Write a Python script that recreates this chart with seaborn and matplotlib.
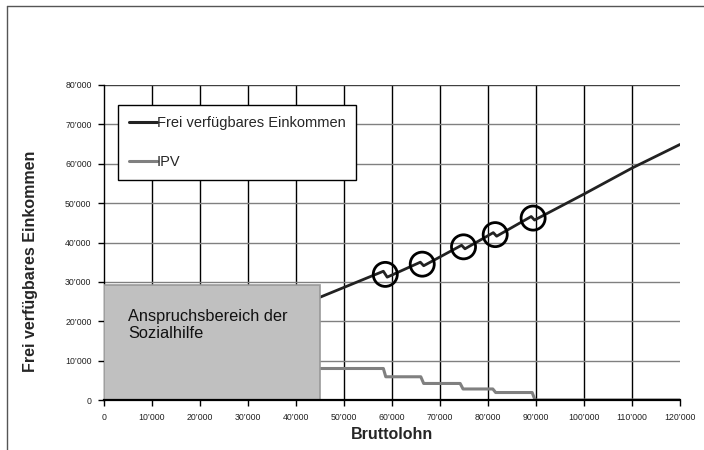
import seaborn as sns
import matplotlib.pyplot as plt
import pandas as pd
from matplotlib.lines import Line2D
from matplotlib.patches import Rectangle

# Frei verfügbares Einkommen
income_x = [45000, 58200, 59000, 65900, 66600, 74500, 75200, 81100, 81800,
            89000, 89700, 100000, 110000, 120000]
income_y = [26100, 32700, 31200, 35000, 34100, 39300, 38400, 42500, 41600,
            46600, 45700, 52300, 58900, 64900]

# IPV steps
ipv_x = [44000, 58200, 58700, 66000, 66600, 74200, 74800, 81000, 81600,
         89200, 89800, 120000]
ipv_y = [8000, 8000, 5900, 5900, 4200, 4200, 2800, 2800, 1900,
         1900, 0, 0]

# circled jumps
circle_x = [58600, 66300, 74900, 81500, 89400]
circle_y = [31900, 34500, 38900, 42000, 46200]

x_ticks = [0, 10000, 20000, 30000, 40000, 50000, 60000, 70000, 80000,
           90000, 100000, 110000, 120000]
x_labels = ["0", "10’000", "20’000", "30’000", "40’000", "50’000", "60’000",
            "70’000", "80’000", "90’000", "100’000", "110’000", "120’000"]
y_ticks = [0, 10000, 20000, 30000, 40000, 50000, 60000, 70000, 80000]
y_labels = ["0", "10’000", "20’000", "30’000", "40’000", "50’000", "60’000",
            "70’000", "80’000"]

sns.set_style("white")
plt.rcParams['font.family'] = ['Liberation Sans', 'DejaVu Sans']

fig = plt.figure(figsize=(7.04, 4.5), dpi=100)
ax = fig.add_axes([104 / 704, 50 / 450, 576 / 704, 315 / 450])

income = pd.DataFrame({"x": income_x, "y": income_y})
ipv = pd.DataFrame({"x": ipv_x, "y": ipv_y})
circles = pd.DataFrame({"x": circle_x, "y": circle_y})

# grid
for v in x_ticks[1:-1]:
    ax.axvline(v, color="black", lw=1.0, zorder=1)
for v in y_ticks[1:]:
    ax.axhline(v, color="#808080" if v < 80000 else "#404040", lw=1.0, zorder=1)

sns.lineplot(data=ipv, x="x", y="y", ax=ax, color="#808080", lw=2.2,
             estimator=None, sort=False, zorder=3)
sns.lineplot(data=income, x="x", y="y", ax=ax, color="#222222", lw=2.0,
             estimator=None, sort=False, zorder=4)
sns.scatterplot(data=circles, x="x", y="y", ax=ax, s=300, marker="o",
                facecolor="none", edgecolor="black", linewidth=2.0, zorder=5)

# Sozialhilfe box
ax.add_patch(Rectangle((0, 0), 45000, 29300, facecolor="#c0c0c0",
                       edgecolor="#999999", lw=1.2, zorder=6))
ax.text(5000, 23000, "Anspruchsbereich der\nSozialhilfe", fontsize=11.8,
        va="top", ha="left", linespacing=1.12, color="#111111", zorder=7)

ax.set_xlim(0, 120000)
ax.set_ylim(0, 80000)
ax.set_xticks(x_ticks)
ax.set_xticklabels(x_labels)
ax.set_yticks(y_ticks)
ax.set_yticklabels(y_labels)
ax.tick_params(axis="both", direction="out", length=4, width=1, color="black",
               labelsize=6.3, labelcolor="#222222", pad=5,
               bottom=True, left=True)

for side in ["top", "right"]:
    ax.spines[side].set_visible(False)
ax.spines["left"].set_color("black")
ax.spines["left"].set_linewidth(1.0)
ax.spines["bottom"].set_color("black")
ax.spines["bottom"].set_linewidth(1.6)
ax.spines["bottom"].set_zorder(8)

ax.set_xlabel("Bruttolohn", fontsize=11.5, fontweight="bold")
ax.set_ylabel("Frei verfügbares Einkommen", fontsize=11.5, fontweight="bold")
ax.xaxis.set_label_coords(0.5, -0.085)
ax.yaxis.set_label_coords(-0.115, 0.44)

handles = [Line2D([0], [0], color="#222222", lw=2.2),
           Line2D([0], [0], color="#808080", lw=2.2)]
leg = ax.legend(handles, ["Frei verfügbares Einkommen", "IPV"],
                loc="upper left", bbox_to_anchor=(118 / 704, 1 - 105 / 450),
                bbox_transform=fig.transFigure, fontsize=10.5, frameon=True,
                fancybox=False, framealpha=1, edgecolor="black",
                handlelength=1.9, handletextpad=0.0, labelspacing=1.75,
                borderpad=0.75, borderaxespad=0)
leg.get_frame().set_linewidth(1.0)
leg.set_zorder(9)

# outer frame (top and left only, image is cropped)
fig.add_artist(Line2D([7 / 704, 7 / 704], [0, 1 - 5.7 / 450], color="#555555",
                      lw=1.0, transform=fig.transFigure))
fig.add_artist(Line2D([7 / 704, 1], [1 - 5.7 / 450, 1 - 5.7 / 450],
                      color="#555555", lw=1.0, transform=fig.transFigure))

fig.savefig("out.png", dpi=100)
